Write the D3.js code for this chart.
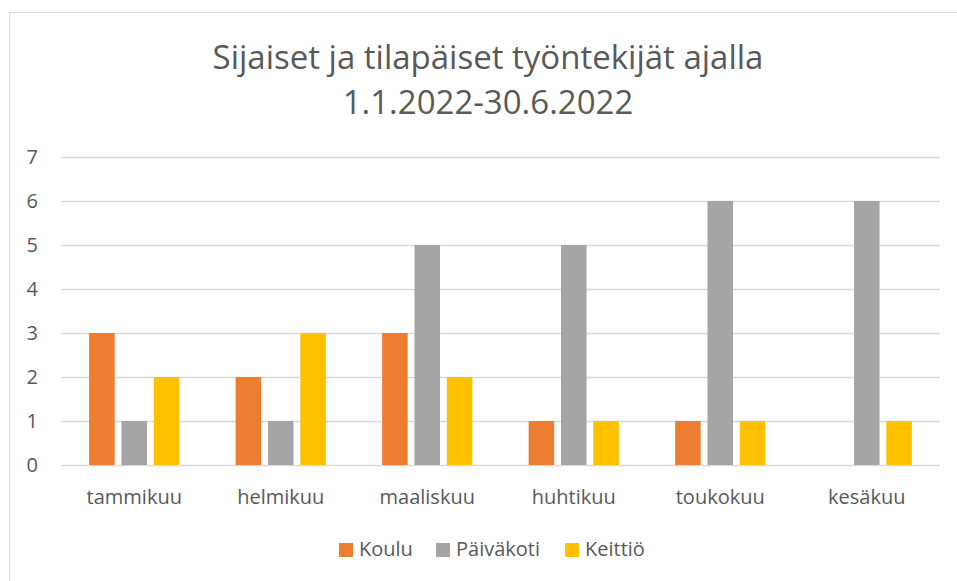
<!DOCTYPE html>
<html>
<head>
<meta charset="utf-8">
<script src="https://cdn.jsdelivr.net/npm/d3@7"></script>
<style>
  body { margin: 0; background: #fff; }
  svg text { font-family: "Open Sans", "Noto Sans", sans-serif; fill: #595959; }
</style>
</head>
<body>
<div id="chart"></div>
<script>
'use strict'

const months = ['tammikuu', 'helmikuu', 'maaliskuu', 'huhtikuu', 'toukokuu', 'kesäkuu'];
const seriesNames = ['Koulu', 'Päiväkoti', 'Keittiö'];
const koulu = [3, 2, 3, 1, 1, 0];
const paivakoti = [1, 1, 5, 5, 6, 6];
const keittio = [2, 3, 2, 1, 1, 1];
const yTicks = [0, 1, 2, 3, 4, 5, 6, 7];
const colors = ['#ED7D31', '#A5A5A5', '#FFC000'];
const titleLines = ['Sijaiset ja tilapäiset työntekijät ajalla', '1.1.2022-30.6.2022'];

const width = 957, height = 581;
const plot = { left: 61, right: 940, top: 157, bottom: 465 };

const svg = d3.select('#chart').append('svg')
  .attr('width', width)
  .attr('height', height);

// chart area frame
svg.append('rect')
  .attr('x', 9.5).attr('y', 12.5)
  .attr('width', width + 10).attr('height', height + 10)
  .attr('fill', 'none')
  .attr('stroke', '#d9d9d9');

// title
svg.append('g').selectAll('text')
  .data(titleLines)
  .enter().append('text')
    .attr('x', 488)
    .attr('y', (d, i) => 69 + i * 45)
    .attr('text-anchor', 'middle')
    .style('font-size', '33px')
    .text(d => d);

const y = d3.scaleLinear().domain([0, 7]).range([plot.bottom, plot.top]);
const x0 = d3.scaleBand().domain(months).range([plot.left, plot.right]).paddingInner(0).paddingOuter(0);
const x1 = d3.scaleBand().domain(seriesNames).range([0, x0.bandwidth()])
  .paddingInner(0.21).paddingOuter(0.87);

// gridlines
svg.append('g').selectAll('line')
  .data(yTicks)
  .enter().append('line')
    .attr('x1', plot.left).attr('x2', plot.right)
    .attr('y1', d => Math.round(y(d)) + 0.5)
    .attr('y2', d => Math.round(y(d)) + 0.5)
    .attr('stroke', '#d9d9d9')
    .attr('stroke-width', 1.3);

// y labels
svg.append('g').selectAll('text')
  .data(yTicks)
  .enter().append('text')
    .attr('x', 38)
    .attr('y', d => y(d) + 7)
    .attr('text-anchor', 'end')
    .style('font-size', '20px')
    .text(d => d);

// bars
const table = months.map((m, i) => ({ month: m, values: [koulu[i], paivakoti[i], keittio[i]] }));

svg.append('g').selectAll('g')
  .data(table)
  .enter().append('g')
    .attr('transform', d => 'translate(' + x0(d.month) + ',0)')
  .selectAll('rect')
    .data(d => d.values.map((v, k) => ({ key: seriesNames[k], value: v, k: k })))
    .enter().append('rect')
      .attr('x', d => x1(d.key))
      .attr('width', x1.bandwidth())
      .attr('y', d => y(d.value))
      .attr('height', d => y(0) - y(d.value))
      .attr('fill', d => colors[d.k]);

// x labels
svg.append('g').selectAll('text')
  .data(months)
  .enter().append('text')
    .attr('x', d => x0(d) + x0.bandwidth() / 2)
    .attr('y', 504)
    .attr('text-anchor', 'middle')
    .style('font-size', '20px')
    .text(d => d);

// legend
const legendX = [339, 436, 565];
const legend = svg.append('g').selectAll('g')
  .data(seriesNames)
  .enter().append('g')
    .attr('transform', (d, i) => 'translate(' + legendX[i] + ',543)');
legend.append('rect')
  .attr('width', 14).attr('height', 14)
  .attr('fill', (d, i) => colors[i]);
legend.append('text')
  .attr('x', 20).attr('y', 13)
  .style('font-size', '20px')
  .text(d => d);
</script>
</body>
</html>
